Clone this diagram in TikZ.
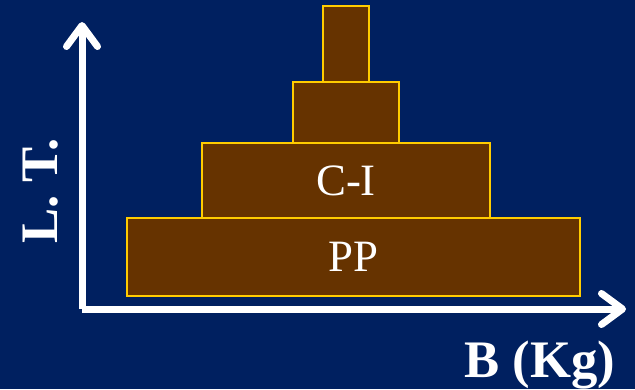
\documentclass[tikz,border=0pt]{standalone}
\usepackage{fontspec}
\setmainfont{Liberation Serif}
\usetikzlibrary{arrows.meta, positioning}
\definecolor{azulfondo}{HTML}{002060}
\definecolor{cafepiramide}{HTML}{663300}
\definecolor{oroborde}{HTML}{FFCC00}
\colorlet{colFondo}{azulfondo}
\colorlet{colNivel}{cafepiramide}
\colorlet{colBorde}{oroborde}
\tikzset{
  nivel/.style={
    draw=colBorde, line width=0.04cm, fill=colNivel,
    inner sep=0pt, outer sep=0pt, text=white,
    font=\fontsize{25.5}{30}\selectfont
  },
  eje/.style={-{Straight Barb[length=0.42cm, width=0.62cm, round]},
    line width=0.14cm, white},
  etiquetaEje/.style={text=white, inner sep=0pt,
    font=\fontsize{30}{36}\selectfont\bfseries},
}

\begin{document}
\begin{tikzpicture}[x=0.02cm, y=-0.02cm]
    \fill[colFondo] (0,0) rectangle (635,389);
    \useasboundingbox (0,0) rectangle (635,389);

    % niveles de la piramide
    \node[nivel, minimum width=9.06cm, minimum height=1.56cm] (pp) at (353.5,257) {PP};
    \node[nivel, minimum width=5.76cm, minimum height=1.5cm, above=0pt of pp, xshift=-0.15cm] (ci) {C-I};
    \node[nivel, minimum width=2.14cm, minimum height=1.22cm, above=0pt of ci] (nivel3) {};
    \node[nivel, minimum width=0.92cm, minimum height=1.52cm, above=0pt of nivel3] (nivel4) {};

    % ejes
    \coordinate (origen) at (82,309);
    \coordinate (ejeY) at (82,22);
    \coordinate (ejeX) at (626,309);
    \draw[eje] (origen) -- (ejeY);
    \draw[eje] (origen) -- (ejeX);

    \node[etiquetaEje, rotate=90] (lt) at (41,191) {L. T.};
    \node[etiquetaEje, anchor=base] (bkg) at (540,377) {B (Kg)};
  \end{tikzpicture}
\end{document}
